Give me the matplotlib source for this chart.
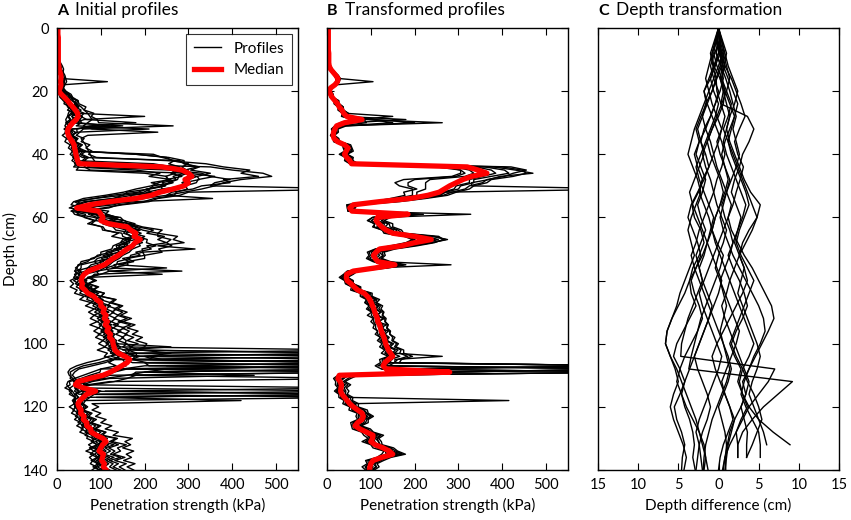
import numpy as np
import matplotlib
matplotlib.use("Agg")
import matplotlib.pyplot as plt
from matplotlib.ticker import FuncFormatter, MultipleLocator

plt.rcParams['font.family'] = ['Lato', 'DejaVu Sans']

########## DATA ##########
depth_m = np.arange(0, 141)       # median depths, 1 cm steps
depth_p = np.arange(10, 141)      # profile depths, 1 cm steps
depth_c = np.arange(0, 141, 4)    # depth-shift nodes, 4 cm steps

median_a = [2, 2, 2, 3, 3, 3, 3, 3, 3, 3,
            3, 3, 4, 5, 7, 9, 9, 8, 9, 7,
            4, 10, 17, 24, 30, 36, 42, 47, 48, 44,
            36, 30, 25, 24, 26, 30, 35, 39, 40, 42,
            43, 45, 47, 50, 240, 285, 300, 308, 292, 300,
            290, 265, 235, 215, 180, 120, 75, 45, 95, 100,
            105, 100, 118, 160, 168, 180, 176, 190, 178, 172,
            160, 150, 140, 128, 118, 108, 90, 72, 62, 57,
            55, 58, 56, 64, 70, 84, 90, 100, 100, 108,
            105, 112, 108, 115, 110, 118, 114, 122, 120, 127,
            128, 130, 132, 140, 155, 166, 160, 148, 135, 122,
            105, 75, 48, 42, 60, 88, 68, 60, 52, 48,
            50, 55, 54, 62, 60, 68, 68, 77, 78, 90,
            105, 112, 104, 100, 96, 106, 104, 102, 108, 106, 112]

median_b = [3, 3, 3, 3, 3, 3, 3, 3, 4, 4,
            4, 4, 5, 8, 14, 20, 25, 24, 18, 8,
            5, 8, 12, 18, 24, 28, 34, 38, 45, 80,
            40, 22, 18, 15, 14, 16, 24, 40, 48, 44,
            40, 45, 52, 56, 320, 345, 365, 330, 310, 295,
            280, 268, 256, 230, 190, 120, 60, 52, 57, 185,
            115, 112, 118, 125, 135, 150, 200, 238, 200, 170,
            120, 112, 106, 110, 116, 155, 110, 60, 45, 44,
            46, 55, 62, 70, 85, 92, 98, 101, 104, 107,
            109, 112, 115, 116, 120, 122, 124, 127, 130, 132,
            134, 137, 140, 145, 150, 140, 132, 128, 135, 280,
            28, 25, 30, 33, 32, 31, 34, 40, 46, 52,
            60, 70, 80, 83, 80, 70, 64, 75, 90, 105,
            104, 100, 110, 128, 142, 150, 125, 105, 100, 98, 97]

# initial profiles, depth 10..140 (values > 550 run off the axes)
a01 = [4, 5, 6, 9, 14, 18, 20, 22, 18, 15,
       12, 24, 28, 48, 50, 66, 62, 84, 78, 92,
       95, 265, 60, 52, 44, 62, 55, 75, 66, 80,
       72, 90, 250, 340, 380, 440, 420, 460, 380, 395,
       330, 310, 262, 250, 195, 160, 85, 60, 118, 110,
       140, 128, 165, 185, 220, 205, 245, 230, 250, 205,
       215, 180, 190, 150, 165, 130, 135, 90, 95, 70,
       85, 70, 92, 80, 108, 100, 132, 120, 145, 130,
       150, 138, 160, 140, 168, 148, 165, 155, 175, 160,
       185, 165, 190, 260, 205, 240, 700, 700, 250, 200,
       160, 110, 60, 45, 70, 100, 85, 75, 65, 60,
       70, 60, 80, 72, 90, 78, 100, 88, 110, 98,
       135, 120, 140, 118, 132, 122, 145, 120, 140, 128, 145]
a02 = [3, 3, 4, 4, 6, 8, 10, 9, 8, 6,
       5, 8, 7, 18, 16, 30, 24, 40, 34, 45,
       35, 32, 18, 22, 12, 22, 18, 30, 26, 36,
       30, 40, 34, 45, 38, 180, 235, 210, 260, 215,
       245, 205, 215, 165, 175, 115, 95, 45, 32, 65,
       62, 85, 70, 105, 110, 140, 125, 160, 145, 165,
       130, 145, 105, 118, 85, 95, 70, 65, 40, 45,
       30, 38, 30, 46, 40, 62, 52, 78, 65, 85,
       72, 85, 76, 92, 75, 95, 84, 98, 88, 105,
       95, 110, 92, 115, 108, 130, 118, 135, 100, 98,
       75, 55, 28, 30, 18, 34, 28, 42, 35, 40,
       28, 40, 33, 48, 40, 55, 45, 60, 52, 70,
       68, 85, 72, 82, 66, 85, 74, 82, 76, 90, 80]
a03 = [4, 5, 7, 9, 10, 12, 11, 10, 9, 8,
       15, 22, 34, 35, 46, 42, 55, 45, 200, 62,
       40, 34, 24, 36, 30, 45, 40, 50, 42, 54,
       45, 58, 280, 290, 325, 305, 350, 320, 325, 290,
       290, 240, 230, 170, 130, 62, 45, 75, 98, 88,
       110, 100, 148, 160, 185, 172, 200, 188, 195, 168,
       170, 142, 148, 122, 128, 102, 100, 65, 66, 50,
       58, 50, 66, 60, 82, 80, 102, 92, 112, 102,
       118, 105, 115, 108, 125, 110, 128, 118, 130, 124,
       140, 128, 155, 160, 188, 170, 700, 200, 150, 120,
       90, 60, 40, 38, 55, 70, 60, 55, 50, 45,
       52, 45, 60, 52, 66, 58, 74, 66, 84, 80,
       108, 96, 110, 92, 102, 95, 112, 96, 110, 102, 116]
a04 = [3, 3, 3, 4, 5, 7, 8, 9, 8, 7,
       5, 4, 8, 14, 22, 24, 35, 33, 44, 35,
       36, 24, 26, 18, 26, 22, 34, 30, 40, 34,
       42, 36, 46, 40, 50, 44, 200, 250, 252, 265,
       238, 240, 205, 200, 160, 148, 100, 78, 35, 40,
       65, 88, 78, 102, 104, 148, 150, 168, 158, 162,
       138, 142, 118, 122, 98, 100, 82, 84, 55, 52,
       38, 50, 44, 58, 52, 72, 68, 88, 82, 96,
       86, 102, 92, 106, 96, 112, 100, 116, 106, 120,
       112, 126, 116, 130, 124, 150, 155, 158, 135, 700,
       120, 100, 70, 40, 30, 28, 35, 40, 42, 44,
       40, 52, 45, 56, 50, 62, 56, 70, 64, 80,
       80, 100, 94, 98, 84, 100, 92, 98, 90, 106, 96]
a05 = [4, 6, 8, 10, 12, 15, 18, 17, 16, 14,
       12, 18, 25, 35, 45, 55, 62, 70, 75, 80,
       70, 60, 80, 230, 70, 55, 60, 65, 68, 72,
       75, 80, 85, 90, 350, 400, 470, 490, 420, 380,
       360, 330, 290, 250, 355, 180, 100, 60, 100, 115,
       135, 118, 170, 195, 240, 230, 275, 265, 290, 230,
       315, 195, 200, 160, 175, 140, 250, 120, 100, 75,
       90, 72, 95, 82, 108, 100, 135, 125, 150, 138,
       160, 145, 170, 150, 178, 160, 185, 172, 195, 180,
       205, 200, 180, 700, 200, 220, 700, 250, 700, 200,
       450, 120, 80, 60, 700, 110, 700, 90, 420, 80,
       95, 80, 100, 88, 112, 100, 125, 110, 140, 128,
       172, 155, 168, 150, 175, 158, 170, 152, 178, 160, 175]
a06 = [4, 6, 9, 10, 9, 8, 7, 6, 8, 10,
       18, 28, 32, 44, 40, 46, 34, 32, 24, 30,
       20, 26, 22, 32, 28, 40, 34, 44, 38, 48,
       180, 250, 262, 300, 285, 295, 260, 285, 250, 262,
       220, 210, 160, 150, 85, 45, 62, 78, 95, 88,
       145, 152, 178, 165, 190, 172, 185, 160, 158, 135,
       138, 112, 118, 92, 85, 55, 55, 48, 60, 52,
       68, 62, 80, 70, 95, 82, 105, 92, 110, 98,
       118, 100, 118, 108, 120, 110, 125, 112, 128, 118,
       135, 260, 150, 700, 140, 130, 110, 80, 50, 40,
       35, 42, 48, 70, 52, 58, 40, 50, 36, 48,
       45, 58, 50, 64, 56, 72, 64, 82, 72, 95,
       105, 88, 98, 86, 108, 92, 102, 90, 110, 92, 105]
a07 = [3, 4, 5, 7, 9, 12, 14, 15, 14, 12,
       10, 14, 16, 30, 30, 48, 44, 62, 54, 68,
       180, 75, 45, 46, 32, 48, 42, 58, 50, 66,
       56, 72, 62, 80, 70, 260, 330, 350, 395, 360,
       350, 700, 300, 280, 230, 210, 150, 105, 55, 95,
       125, 150, 140, 180, 195, 230, 230, 260, 250, 262,
       232, 240, 200, 200, 160, 162, 125, 285, 85, 78,
       55, 72, 62, 82, 74, 100, 98, 122, 115, 136,
       125, 140, 130, 150, 128, 155, 138, 160, 148, 158,
       155, 172, 162, 182, 180, 700, 200, 210, 700, 180,
       170, 700, 120, 70, 50, 45, 700, 60, 55, 58,
       66, 58, 76, 66, 84, 78, 96, 85, 112, 104,
       138, 125, 158, 138, 145, 128, 155, 132, 158, 142, 155]
a08 = [3, 4, 5, 6, 8, 9, 10, 9, 7, 5,
       8, 16, 18, 30, 26, 38, 34, 44, 34, 38,
       24, 26, 16, 26, 22, 34, 28, 38, 32, 42,
       36, 46, 40, 220, 262, 258, 290, 265, 272, 240,
       248, 212, 198, 150, 128, 72, 45, 28, 75, 72,
       92, 88, 138, 132, 158, 152, 172, 162, 166, 140,
       148, 122, 126, 102, 106, 78, 70, 42, 44, 38,
       50, 42, 58, 52, 70, 64, 86, 78, 94, 86,
       100, 84, 104, 92, 102, 95, 110, 94, 114, 104,
       118, 108, 126, 122, 145, 128, 700, 700, 100, 80,
       60, 40, 25, 22, 28, 35, 40, 42, 40, 38,
       44, 36, 50, 42, 56, 48, 62, 55, 70, 64,
       84, 78, 92, 74, 84, 76, 92, 78, 94, 82, 96]
a09 = [4, 4, 5, 6, 8, 10, 12, 14, 13, 12,
       10, 8, 14, 18, 32, 32, 48, 46, 58, 52,
       56, 44, 210, 46, 34, 44, 40, 55, 48, 60,
       52, 66, 58, 70, 62, 76, 300, 360, 322, 318,
       292, 298, 272, 268, 222, 198, 140, 118, 55, 45,
       85, 105, 104, 128, 134, 176, 184, 206, 204, 226,
       194, 196, 168, 166, 138, 136, 112, 118, 240, 70,
       64, 52, 68, 62, 82, 78, 104, 100, 122, 112,
       130, 118, 134, 124, 140, 128, 146, 134, 152, 140,
       160, 150, 168, 158, 178, 172, 205, 700, 190, 700,
       180, 160, 130, 80, 45, 40, 50, 700, 60, 55,
       62, 54, 70, 64, 78, 72, 88, 80, 100, 92,
       115, 105, 130, 110, 122, 108, 130, 112, 128, 120, 135]
a10 = [5, 8, 12, 15, 14, 12, 10, 115, 12, 14,
       20, 32, 36, 48, 44, 50, 36, 38, 26, 32,
       26, 150, 30, 42, 36, 46, 42, 50, 44, 54,
       180, 255, 290, 290, 320, 292, 298, 278, 275, 255,
       245, 205, 185, 125, 85, 38, 32, 62, 82, 100,
       105, 155, 160, 182, 172, 192, 175, 178, 152, 155,
       132, 125, 92, 85, 55, 52, 42, 55, 48, 60,
       56, 70, 70, 88, 82, 98, 92, 105, 98, 112,
       100, 116, 105, 120, 108, 124, 112, 128, 120, 132,
       125, 140, 700, 152, 118, 98, 68, 45, 30, 25,
       28, 36, 38, 55, 50, 62, 56, 62, 50, 58,
       50, 62, 56, 68, 62, 76, 70, 84, 78, 95,
       90, 106, 94, 100, 92, 108, 96, 102, 96, 110, 102]
a11 = [3, 4, 5, 6, 9, 11, 12, 11, 10, 8,
       6, 10, 12, 20, 24, 34, 36, 46, 44, 52,
       48, 120, 36, 30, 26, 32, 30, 40, 36, 46,
       42, 50, 46, 56, 260, 300, 290, 320, 300, 285,
       295, 262, 250, 215, 200, 150, 130, 60, 42, 90,
       95, 118, 112, 150, 162, 180, 176, 198, 186, 190,
       172, 165, 150, 142, 128, 120, 108, 95, 62, 60,
       52, 62, 56, 72, 66, 86, 80, 100, 95, 112,
       105, 118, 110, 124, 116, 128, 120, 132, 126, 136,
       132, 145, 138, 150, 165, 158, 172, 700, 160, 130,
       112, 85, 55, 38, 45, 700, 62, 70, 55, 50,
       55, 48, 62, 56, 70, 64, 78, 72, 90, 86,
       112, 100, 118, 104, 112, 100, 120, 106, 118, 108, 120]
a12 = [3, 5, 7, 9, 8, 7, 6, 8, 10, 14,
       20, 26, 34, 36, 42, 36, 30, 26, 24, 20,
       22, 18, 24, 22, 30, 28, 36, 34, 40, 38,
       220, 240, 268, 255, 280, 262, 270, 248, 255, 232,
       215, 180, 152, 110, 60, 40, 52, 70, 82, 78,
       130, 125, 152, 145, 165, 158, 170, 150, 145, 128,
       125, 100, 100, 78, 70, 48, 46, 40, 52, 46,
       60, 54, 72, 64, 86, 76, 96, 86, 102, 92,
       108, 96, 110, 100, 112, 104, 118, 106, 120, 112,
       125, 118, 138, 130, 700, 122, 95, 60, 42, 30,
       32, 30, 44, 48, 40, 50, 44, 48, 38, 44,
       40, 50, 44, 56, 50, 62, 58, 70, 66, 80,
       88, 80, 92, 82, 96, 86, 94, 84, 98, 88, 96]
profiles_a = [a01, a02, a03, a04, a05, a06, a07, a08, a09, a10, a11, a12]

# transformed profiles, depth 10..140
b01 = [4, 5, 6, 10, 16, 22, 28, 105, 20, 10,
       6, 12, 12, 24, 24, 34, 32, 46, 44, 90,
       263, 34, 18, 22, 12, 24, 24, 50, 50, 56,
       42, 56, 52, 68, 380, 430, 470, 395, 370, 330,
       330, 700, 270, 258, 190, 140, 58, 62, 55, 200,
       135, 112, 140, 132, 158, 160, 240, 275, 238, 185,
       148, 118, 128, 118, 140, 165, 130, 66, 55, 44,
       56, 55, 74, 72, 98, 94, 112, 104, 118, 112,
       122, 115, 132, 114, 136, 122, 140, 132, 142, 136,
       152, 144, 162, 154, 263, 155, 155, 700, 145, 700,
       50, 38, 28, 42, 32, 40, 36, 50, 46, 62,
       64, 84, 88, 100, 86, 84, 68, 90, 98, 122,
       110, 118, 120, 146, 150, 170, 130, 122, 105, 112, 100]
b02 = [3, 3, 4, 6, 10, 16, 20, 20, 14, 6,
       4, 6, 7, 16, 16, 25, 25, 35, 33, 60,
       30, 18, 10, 13, 8, 15, 15, 35, 37, 40,
       28, 42, 40, 52, 250, 305, 315, 295, 200, 185,
       185, 205, 175, 178, 145, 105, 45, 46, 48, 150,
       104, 92, 110, 104, 126, 130, 176, 195, 180, 145,
       110, 92, 96, 90, 105, 130, 98, 46, 38, 28,
       40, 42, 56, 54, 76, 76, 90, 86, 96, 90,
       102, 92, 106, 100, 108, 105, 116, 110, 122, 115,
       126, 120, 132, 124, 140, 120, 122, 110, 124, 200,
       25, 15, 20, 19, 25, 17, 27, 27, 39, 36,
       52, 50, 69, 66, 70, 54, 56, 58, 79, 84,
       94, 80, 100, 105, 130, 125, 114, 88, 92, 80, 88]
b03 = [4, 4, 5, 9, 15, 21, 26, 24, 18, 8,
       5, 10, 12, 21, 23, 31, 33, 41, 150, 70,
       45, 28, 17, 19, 12, 21, 23, 45, 47, 50,
       38, 50, 50, 62, 340, 375, 385, 355, 325, 325,
       295, 290, 265, 250, 200, 130, 54, 54, 52, 328,
       122, 110, 126, 125, 145, 150, 215, 245, 215, 175,
       132, 113, 114, 107, 124, 283, 110, 66, 42, 49,
       44, 62, 60, 76, 84, 99, 96, 108, 104, 114,
       108, 119, 114, 122, 120, 129, 124, 134, 130, 139,
       134, 144, 141, 154, 151, 149, 134, 700, 700, 300,
       45, 38, 29, 39, 31, 36, 33, 45, 415, 58,
       58, 76, 78, 90, 78, 76, 62, 82, 88, 112,
       102, 106, 108, 134, 141, 159, 124, 112, 98, 104, 96]
b04 = [5, 6, 8, 12, 18, 26, 30, 28, 22, 12,
       8, 14, 14, 27, 28, 37, 38, 47, 48, 110,
       200, 44, 25, 26, 17, 27, 29, 54, 57, 60,
       46, 60, 58, 72, 400, 445, 455, 425, 375, 365,
       335, 325, 295, 275, 225, 165, 70, 64, 64, 220,
       145, 130, 150, 150, 170, 175, 255, 265, 245, 205,
       155, 130, 133, 125, 145, 180, 140, 70, 60, 47,
       60, 60, 77, 77, 103, 103, 120, 113, 127, 123,
       130, 127, 135, 133, 140, 137, 145, 143, 155, 150,
       163, 157, 175, 175, 195, 170, 165, 700, 170, 700,
       70, 54, 41, 54, 44, 50, 46, 59, 58, 72,
       71, 92, 94, 106, 94, 94, 78, 99, 106, 129,
       118, 124, 126, 152, 161, 179, 146, 129, 114, 119, 108]
b05 = [3, 4, 4, 7, 12, 18, 22, 22, 16, 7,
       4, 8, 10, 18, 20, 28, 30, 38, 38, 180,
       55, 23, 12, 16, 9, 17, 17, 39, 41, 43,
       33, 45, 45, 55, 290, 325, 335, 315, 235, 225,
       225, 225, 205, 205, 170, 115, 48, 50, 48, 160,
       112, 101, 116, 114, 132, 138, 190, 215, 190, 155,
       116, 101, 104, 98, 112, 140, 104, 51, 44, 36,
       46, 46, 62, 61, 84, 84, 96, 92, 104, 98,
       109, 106, 112, 110, 116, 118, 122, 120, 126, 124,
       134, 128, 139, 136, 146, 131, 129, 116, 700, 250,
       32, 22, 28, 25, 31, 23, 33, 33, 45, 43,
       57, 59, 75, 75, 77, 61, 61, 65, 87, 95,
       101, 91, 107, 117, 138, 137, 121, 97, 97, 89, 95]
b06 = [4, 5, 6, 9, 15, 21, 26, 26, 19, 9,
       6, 11, 11, 22, 22, 33, 33, 43, 42, 85,
       90, 30, 16, 21, 11, 22, 22, 48, 48, 52,
       40, 52, 51, 64, 360, 405, 415, 375, 335, 335,
       305, 300, 270, 255, 205, 135, 62, 60, 58, 190,
       128, 112, 131, 129, 151, 154, 226, 254, 226, 179,
       138, 114, 120, 112, 130, 159, 124, 59, 54, 40,
       54, 52, 71, 69, 96, 92, 110, 100, 116, 108,
       124, 110, 128, 119, 128, 124, 134, 129, 138, 134,
       148, 139, 156, 149, 166, 144, 146, 129, 700, 270,
       42, 35, 27, 37, 29, 33, 31, 43, 45, 57,
       59, 78, 83, 93, 82, 78, 65, 83, 93, 115,
       107, 109, 115, 138, 147, 163, 127, 113, 101, 105, 97]
b07 = [3, 3, 4, 7, 12, 17, 22, 21, 15, 7,
       4, 7, 9, 17, 18, 26, 28, 36, 36, 65,
       35, 21, 11, 15, 8, 16, 17, 38, 39, 41,
       32, 43, 43, 53, 270, 305, 305, 285, 175, 155,
       165, 195, 195, 195, 160, 110, 46, 48, 48, 140,
       104, 94, 108, 108, 126, 136, 184, 201, 184, 151,
       112, 96, 99, 94, 108, 136, 102, 48, 42, 32,
       44, 44, 59, 58, 80, 80, 92, 88, 100, 94,
       104, 101, 107, 106, 111, 111, 115, 116, 121, 121,
       130, 126, 136, 132, 144, 126, 126, 700, 125, 230,
       28, 19, 25, 23, 28, 21, 31, 31, 43, 41,
       55, 57, 73, 71, 73, 59, 59, 63, 83, 92,
       98, 87, 103, 115, 133, 135, 118, 93, 95, 87, 91]
b08 = [5, 6, 8, 12, 18, 24, 30, 28, 22, 12,
       8, 14, 14, 25, 27, 37, 37, 49, 49, 100,
       150, 38, 22, 23, 15, 25, 27, 51, 55, 57,
       45, 57, 59, 69, 420, 455, 425, 405, 365, 355,
       325, 315, 285, 265, 215, 155, 66, 62, 62, 210,
       136, 124, 142, 144, 162, 171, 244, 271, 239, 196,
       149, 126, 128, 124, 139, 171, 134, 68, 56, 46,
       58, 58, 74, 76, 99, 101, 114, 111, 122, 118,
       128, 126, 132, 132, 138, 136, 142, 144, 150, 148,
       159, 154, 169, 166, 184, 161, 154, 141, 700, 700,
       60, 48, 37, 48, 39, 43, 42, 53, 55, 65,
       67, 85, 91, 101, 91, 88, 75, 93, 102, 123,
       115, 117, 122, 145, 157, 173, 139, 123, 109, 113, 105]
profiles_b = [b01, b02, b03, b04, b05, b06, b07, b08]

# depth difference (cm) at depth_c nodes; some profiles end before 140 cm
c01 = [0, 0.3, 0.2, -0.4, -1.0, -1.8, -1.5, -2.2, -2.8, -2.4, -3.0, -2.6, -2.0, -2.5, -3.3, -3.0, -2.2, -1.8,
       -2.4, -3.2, -3.6, -3.4, -2.8, -3.6, -4.4, -5.2, -5.6, -4.8, -4.2, -4.8, -5.5, -5.2, -4.6, -4.2, -4.5, -4.6]
c02 = [0, -0.3, 0.2, 0.8, 1.6, 2.2, 2.8, 3.3, 2.6, 2.0, 2.4, 3.1, 2.7, 2.2, 1.8, 1.2, 1.6, 2.4,
       3.2, 4.2, 5.0, 5.8, 6.6, 6.9, 6.2, 5.4, 4.6, 3.8, 3.0, 3.4, 2.8, 2.0, 1.4, 1.1, 0.8, 0.6]
c03 = [0, 0.4, 0.7, 0.4, -0.2, -0.8, -1.6, -2.0, -1.6, -1.0, -0.6, -1.2, -2.0, -2.4, -1.8, -1.2, -0.8, -1.4,
       -2.0, -2.8, -3.6, -4.2, -5.0, -5.8, -6.4, -6.6, -6.0, -5.2, -4.6, -4.0, -3.4, -2.8, -2.4, -2.0, -1.6, -1.3]
c04 = [0, -0.2, 0.4, 0.8, 0.4, 0.6, 0.3, 3.6, 4.4, 3.8, 3.0, 2.6, 2.0, 1.6, 2.2, 2.8, 2.4, 1.8,
       1.2, 1.8, 2.6, 3.2, 3.6, 3.0, 2.2, 1.6, 2.2, 3.0, 3.6, 4.4, 5.0, 5.4, 4.8, 4.2, 3.5]
c05 = [0, 0.2, -0.5, -1.0, -0.6, 0.0, -0.4, -1.0, -1.6, -2.4, -2.8, -2.2, -1.6, -2.0, -2.6, -2.2, -1.6, -2.2,
       -2.8, -2.4, -2.0, -2.6, -3.2, -3.8, -4.2, -4.6, -4.7, 7.0, 6.2, 5.0, 3.8, 3.0, 2.2, 1.4, 0.8, 0.5]
c06 = [0, -0.2, -0.8, -0.6, 0.2, 0.8, 0.6, 0.0, -0.8, -1.4, -1.0, -0.4, 0.2, 0.6, 0.2, -0.4, -0.8, -0.2,
       0.6, 0.2, -0.4, -1.0, -1.6, -2.2, -2.6, -3.0, -3.4, -3.7, 9.2, 7.4, 5.6, 4.2, 3.0, 2.4, 2.4]
c07 = [0, 0.4, 0.8, 1.2, 1.8, 2.4, 2.0, 1.4, 1.0, 1.4, 2.0, 2.6, 3.2, 4.0, 5.2, 4.8, 3.8, 3.0,
       2.6, 3.2, 3.6, 3.0, 2.2, 1.4, 0.6, -0.2, -0.8, -0.4, 0.2, 0.8, 1.4, 2.0, 1.6, 1.2, 1.0, 0.8]
c08 = [0, -0.4, -0.8, -1.2, -1.6, -1.2, -1.8, -2.4, -3.0, -3.4, -3.8, -3.2, -2.6, -2.2, -2.8, -3.4, -3.8, -3.4,
       -3.0, -3.6, -4.2, -4.8, -5.2, -5.8, -6.4, -6.6, -6.0, -5.4, -5.0, -5.6, -6.0, -5.6, -5.0, -4.4, -4.0, -4.3]
c09 = [0, 0.1, 0.4, 0.2, -0.3, -0.2, 0.3, 0.8, 0.4, -0.2, 0.2, 0.8, 1.4, 1.0, 0.6, 0.2, 0.6, 1.2,
       1.8, 2.6, 3.4, 4.2, 5.0, 5.6, 5.8, 5.2, 4.4, 3.8, 3.2, 2.8, 3.4, 4.2, 5.0, 5.2, 5.2]
c10 = [0, -0.1, -0.3, 0.3, 0.6, 0.2, -0.4, -1.0, -1.8, -2.2, -1.8, -2.4, -3.0, -3.6, -3.2, -2.6, -2.0, -1.4,
       -1.8, -2.4, -2.0, -1.4, -0.8, -1.2, -1.8, -2.4, -3.0, -2.6, -2.0, -1.4, -1.0, -1.4, -2.0, -2.4, -2.2, -2.0]
c11 = [0, 0.5, 1.0, 0.7, 0.4, 0.8, 1.4, 2.0, 1.6, 1.2, 1.6, 2.2, 2.8, 3.4, 3.8, 3.2, 2.6, 2.2,
       2.8, 3.6, 4.4, 3.8, 3.2, 2.6, 2.0, 1.4, 2.0, 2.8, 2.4, 3.0, 3.8, 5.0, 6.8, 8.9]
c12 = [0, -0.5, -1.0, -0.7, -0.3, -0.8, -1.4, -2.0, -2.6, -2.2, -1.6, -1.2, -1.8, -2.6, -3.4, -3.8, -3.2, -2.6,
       -2.2, -2.8, -3.4, -3.0, -2.4, -2.0, -2.6, -3.4, -4.2, -4.8, -5.2, -4.6, -4.0, -3.2, -2.4, -1.8, -1.6, -1.8]
c13 = [0, 0.2, 0.0, -0.6, -1.2, -1.8, -1.4, -0.8, -0.2, 0.4, 0.8, 0.4, -0.2, -0.6, -0.2, 0.4, 1.0, 0.6,
       0.0, -0.4, 0.2, 0.8, 1.4, 2.0, 2.6, 2.2, 1.6, 1.0, 0.4, 0.8, 1.4, 1.8, 1.2, 0.6, 0.2, 0.0]
c14 = [0, -0.2, 0.2, 0.6, 1.2, 1.8, 2.4, 2.0, 1.4, 0.8, 0.4, 0.8, 1.2, 0.8, 0.2, -0.4, -0.8, -0.4,
       0.2, 0.8, 1.4, 1.0, 0.4, 0.8, 1.4, 2.0, 2.6, 3.2, 3.8, 3.4, 2.8, 3.2, 3.6, 3.5, 3.5]
c15 = [0, 0.3, 0.0, -0.5, -1.0, -0.6, 0.0, -0.4, -1.0, -1.6, -2.2, -2.8, -2.4, -1.8, -1.2, -0.6, -1.0, -1.4,
       -0.8, -0.2, 0.4, 0.0, -0.6, -1.2, -1.8, -2.4, -3.0, -3.6, -4.2, -4.6, -4.2, -3.6, -3.2, -3.0, -3.2, -2.9]
c16 = [0, -0.3, 0.1, 0.5, 0.2, 0.6, 1.0, 1.4, 1.0, 0.6, 1.0, 1.6, 2.2, 2.8, 3.4, 3.0, 2.4, 2.0,
       2.6, 3.2, 2.8, 2.4, 3.0, 3.6, 4.2, 4.8, 5.2, 4.8, 4.2, 3.8, 4.4, 5.0, 5.6, 6.0]
c17 = [0, 0.1, -0.3, 0.3, 0.9, 1.4, 1.8, 2.2, 1.8, 2.2, 2.6, 2.2, 1.6, 1.0, 0.4, 0.8, 1.4, 1.8,
       1.4, 0.8, 0.2, 0.6, 1.0, 0.6, 0.2, 0.6, 1.2, 1.6, 1.2, 0.6, 0.0, 0.4, 0.8, 1.0, 0.9, 0.9]
c18 = [0, -0.1, 0.5, 0.0, -0.6, -1.2, -0.8, -0.2, 0.4, 0.0, -0.6, -0.2, 0.4, 1.0, 1.6, 1.2, 0.6, 0.0,
       -0.6, -1.2, -1.8, -2.4, -2.0, -1.4, -0.8, -0.2, 0.4, 0.0, -0.6, -1.2, -1.8, -2.4, -2.8, -2.4, -2.6, -2.8]
c19 = [0, 0.2, 0.6, 1.0, 1.4, 1.0, 0.4, -0.2, -0.8, -1.4, -2.0, -1.6, -1.0, -0.6, -1.2, -1.8, -2.4, -2.8,
       -3.4, -3.0, -2.4, -1.8, -1.2, -0.6, 0.0, 0.6, 1.0, 1.4, 1.0, 0.4, -0.2, -0.8, -1.2, -1.6, -1.8, -1.9]
c20 = [0, -0.3, -0.6, -0.2, 0.4, 1.0, 1.6, 1.2, 0.6, 1.2, 1.8, 2.4, 3.0, 3.6, 4.2, 4.8, 4.2, 3.4,
       2.6, 2.0, 1.4, 2.0, 2.6, 3.2, 3.8, 4.4, 3.8, 3.0, 2.6, 3.0, 3.6, 2.8, 2.2, 2.4, 2.4]
shifts_c = [c01, c02, c03, c04, c05, c06, c07, c08, c09, c10,
            c11, c12, c13, c14, c15, c16, c17, c18, c19, c20]

########## FIGURE ##########
fig = plt.figure(figsize=(8.51, 5.2), dpi=100)
W, H = 851.0, 520.0
bottom = (H - 470) / H
height = 442 / H
width = 241 / W
axA = fig.add_axes([57 / W, bottom, width, height])
axB = fig.add_axes([327 / W, bottom, width, height])
axC = fig.add_axes([598 / W, bottom, width, height])


def style_axis(ax):
    ax.set_ylim(140, 0)
    ax.yaxis.set_major_locator(MultipleLocator(20))
    ax.tick_params(direction='in', top=True, right=True, length=5, width=0.8,
                   labelsize=10.5, pad=6)
    for sp in ax.spines.values():
        sp.set_linewidth(1.0)


def panel_title(ax, letter, text):
    ax.text(0.0, 1.03, letter, transform=ax.transAxes, fontsize=11.5,
            fontweight='bold', va='baseline', ha='left')
    ax.text(0.075, 1.03, text, transform=ax.transAxes, fontsize=12.5,
            va='baseline', ha='left')


# A: initial profiles
for i, v in enumerate(profiles_a):
    axA.plot(v, depth_p[:len(v)], color='black', lw=1.0,
             label='Profiles' if i == 0 else None)
axA.plot(median_a, depth_m[:len(median_a)], color='red', lw=3.8, label='Median')
axA.set_xlim(0, 550)
axA.xaxis.set_major_locator(MultipleLocator(100))
style_axis(axA)
axA.set_ylabel('Depth (cm)', fontsize=11)
axA.set_xlabel('Penetration strength (kPa)', fontsize=11)
leg = axA.legend(loc='upper right', fontsize=11, frameon=True, fancybox=False,
                 handlelength=1.8, borderaxespad=0.4, borderpad=0.5)
leg.get_frame().set_edgecolor('black')
leg.get_frame().set_linewidth(0.8)
panel_title(axA, 'A', 'Initial profiles')

# B: transformed profiles
for v in profiles_b:
    axB.plot(v, depth_p[:len(v)], color='black', lw=1.0)
axB.plot(median_b, depth_m[:len(median_b)], color='red', lw=3.8)
axB.set_xlim(0, 550)
axB.xaxis.set_major_locator(MultipleLocator(100))
style_axis(axB)
axB.set_yticklabels([])
axB.set_xlabel('Penetration strength (kPa)', fontsize=11)
panel_title(axB, 'B', 'Transformed profiles')

# C: depth transformation
for v in shifts_c:
    axC.plot(v, depth_c[:len(v)], color='black', lw=1.0)
axC.set_xlim(-15, 15)
axC.xaxis.set_major_locator(MultipleLocator(5))
axC.xaxis.set_major_formatter(FuncFormatter(lambda x, p: '%g' % abs(x)))
style_axis(axC)
axC.set_yticklabels([])
axC.set_xlabel('Depth difference (cm)', fontsize=11)
panel_title(axC, 'C', 'Depth transformation')

fig.savefig('out.png', dpi=100)
